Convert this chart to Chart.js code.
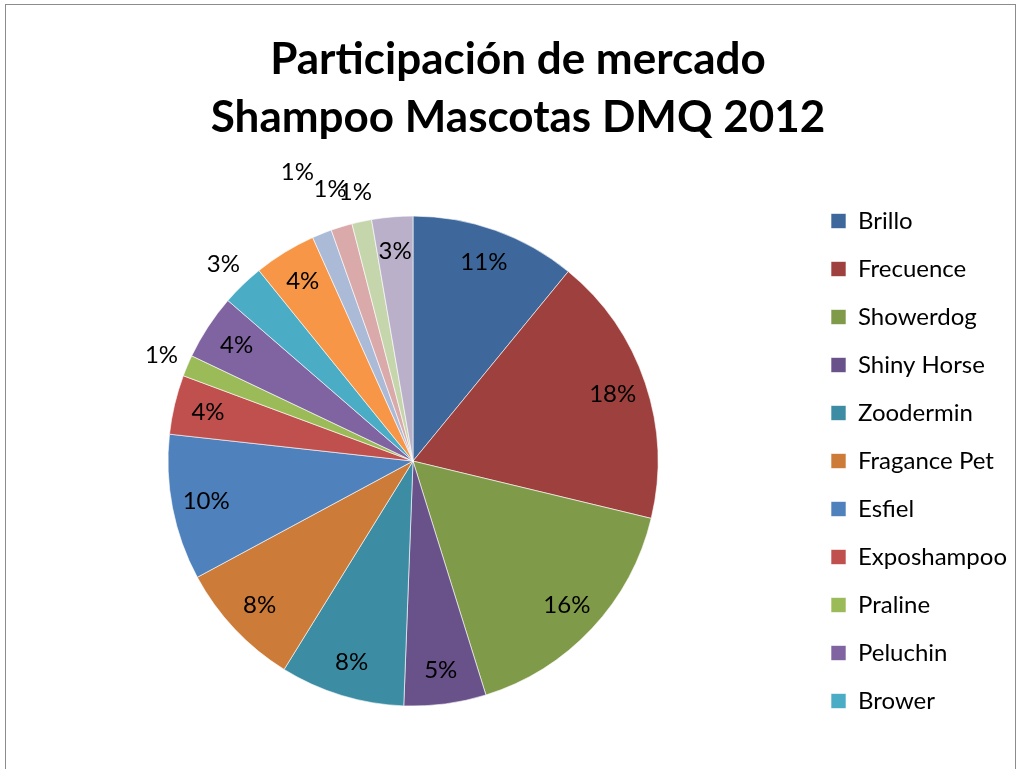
<!DOCTYPE html>
<html>
<head>
<meta charset="utf-8">
<script src="https://cdn.jsdelivr.net/npm/chart.js@4.4.1/dist/chart.umd.min.js"></script>
<style>
  html, body { margin: 0; padding: 0; background: #fff; overflow: hidden; }
  #wrap { position: relative; width: 1020px; height: 769px; }
  #frame { position: absolute; left: 5px; top: 4px; width: 1009px; height: 800px;
           border: 1.5px solid #8c8c8c; pointer-events: none; }
</style>
</head>
<body>
<div id="wrap">
  <canvas id="pieChart" width="1020" height="769"></canvas>
  <div id="frame"></div>
</div>
<script>
// Marcas (las 5 ultimas no aparecen en la leyenda del original)
const marcas = ['Brillo', 'Frecuence', 'Showerdog', 'Shiny Horse', 'Zoodermin', 'Fragance Pet',
  'Esfiel', 'Exposhampoo', 'Praline', 'Peluchin', 'Brower',
  'Otra marca 1', 'Otra marca 2', 'Otra marca 3', 'Otra marca 4', 'Otra marca 5'];

// Participacion estimada (%)
const participacion = [10.9, 17.8, 16.4, 5.4, 8.2, 8.3, 9.6, 3.9, 1.4, 4.3, 2.8, 4.1, 1.3, 1.4, 1.3, 2.7];

const colores = ['#3E689B', '#9E413E', '#7F9A48', '#69518A', '#3C8DA4', '#CC7B38',
  '#4F81BD', '#C0504D', '#9BBB59', '#8064A2', '#4BACC6',
  '#F79646', '#AABAD7', '#D9AAA9', '#C6D6AC', '#BAB0C9'];

const titulo = ['Participación de mercado', 'Shampoo Mascotas DMQ 2012'];

// etiquetas que van fuera del sector (indice: distancia extra al borde)
const fuera = { 8: 28, 10: 28, 12: 66, 13: 39, 14: 30 };

const etiquetasPlugin = {
  id: 'etiquetas',
  afterDatasetsDraw(chart) {
    const ctx = chart.ctx;
    const ds = chart.data.datasets[0];
    const total = ds.data.reduce((a, b) => a + b, 0);
    ctx.save();
    ctx.font = '24px Lato';
    ctx.fillStyle = '#000';
    ctx.textAlign = 'center';
    ctx.textBaseline = 'middle';
    chart.getDatasetMeta(0).data.forEach((arc, i) => {
      const p = arc.getProps(['x', 'y', 'startAngle', 'endAngle', 'outerRadius'], true);
      const mid = (p.startAngle + p.endAngle) / 2;
      const r = (i in fuera) ? p.outerRadius + fuera[i] : p.outerRadius * 0.86;
      const txt = Math.round(ds.data[i] / total * 100) + '%';
      ctx.fillText(txt, p.x + Math.cos(mid) * r, p.y + Math.sin(mid) * r);
    });
    ctx.restore();
  }
};

const config = {
  type: 'pie',
  data: {
    labels: marcas,
    datasets: [{
      data: participacion,
      backgroundColor: colores,
      borderColor: 'rgba(255,255,255,0.6)',
      borderWidth: 1,
      radius: 245
    }]
  },
  options: {
    responsive: false,
    animation: false,
    layout: { padding: { top: 0, bottom: 32, left: 19, right: 3 } },
    plugins: {
      title: {
        display: true,
        text: titulo,
        color: '#000',
        font: { family: 'Lato', size: 44, weight: 'bold', lineHeight: 1.32 },
        padding: { top: 31, bottom: 38 }
      },
      legend: {
        position: 'right',
        align: 'end',
        labels: {
          filter: (item) => item.index < 11,
          color: '#000',
          font: { family: 'Lato', size: 24 },
          boxWidth: 15,
          boxHeight: 15,
          padding: 24
        }
      },
      tooltip: { enabled: false }
    }
  },
  plugins: [etiquetasPlugin]
};

const ctx = document.getElementById('pieChart').getContext('2d');
new Chart(ctx, config);
</script>
</body>
</html>
